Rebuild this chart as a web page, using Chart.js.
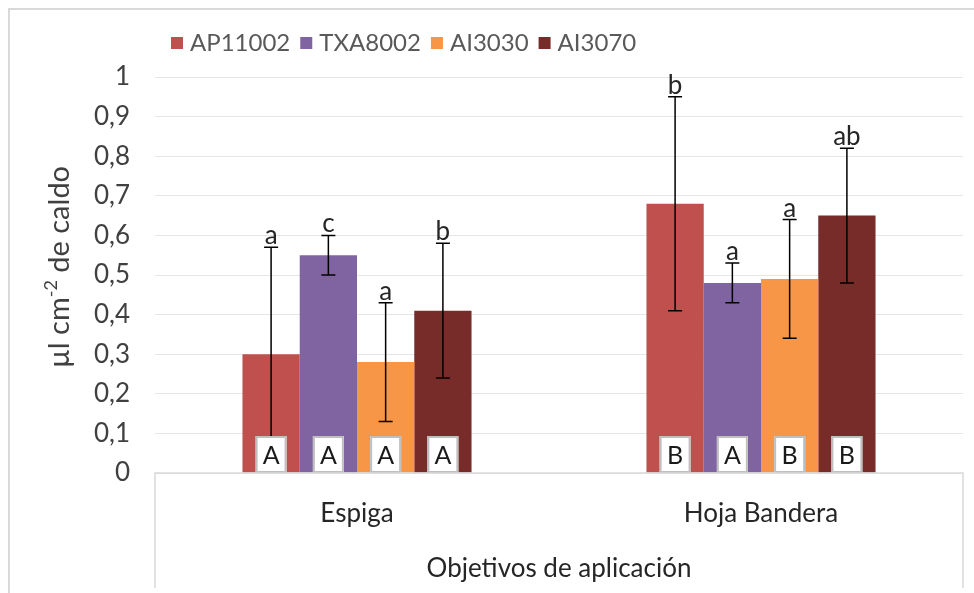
<!DOCTYPE html>
<html>
<head>
<meta charset="utf-8">
<script src="https://cdn.jsdelivr.net/npm/chart.js@4.4.1/dist/chart.umd.min.js"></script>
<style>
  html, body { margin: 0; padding: 0; background: #fff; }
  #wrap { position: relative; width: 974px; height: 593px; }
</style>
</head>
<body>
<div id="wrap"><canvas id="chart"></canvas></div>
<script>
const categories = ['Espiga', 'Hoja Bandera'];
const seriesNames = ['AP11002', 'TXA8002', 'AI3030', 'AI3070'];
const ap11002 = [0.30, 0.68];
const txa8002 = [0.55, 0.48];
const ai3030 = [0.28, 0.49];
const ai3070 = [0.41, 0.65];
const ap11002Err = [0.27, 0.27];
const txa8002Err = [0.05, 0.05];
const ai3030Err = [0.15, 0.15];
const ai3070Err = [0.17, 0.17];
const ap11002Top = ['a', 'b'];
const txa8002Top = ['c', 'a'];
const ai3030Top = ['a', 'a'];
const ai3070Top = ['b', 'ab'];
const ap11002Box = ['A', 'B'];
const txa8002Box = ['A', 'A'];
const ai3030Box = ['A', 'B'];
const ai3070Box = ['A', 'B'];
const yTicks = [0, 0.1, 0.2, 0.3, 0.4, 0.5, 0.6, 0.7, 0.8, 0.9, 1];

const colors = ['#c0504d', '#8064a2', '#f79646', '#772c2a'];
const values = [ap11002, txa8002, ai3030, ai3070];
const errors = [ap11002Err, txa8002Err, ai3030Err, ai3070Err];
const topLetters = [ap11002Top, txa8002Top, ai3030Top, ai3070Top];
const boxLetters = [ap11002Box, txa8002Box, ai3030Box, ai3070Box];

const fontFamily = 'Lato, "Open Sans", sans-serif';
const textColor = '#404040';
const lineGray = '#d9d9d9';

function formatTick(value) {
  const v = Math.round(value * 10) / 10;
  return String(v).replace('.', ',');
}

const frame = {
  id: 'frame',
  beforeDraw(chart) {
    const ctx = chart.ctx;
    ctx.save();
    ctx.strokeStyle = lineGray;
    ctx.lineWidth = 2;
    ctx.beginPath();
    ctx.moveTo(9, chart.height + 5);
    ctx.lineTo(9, 9);
    ctx.lineTo(chart.width + 5, 9);
    ctx.stroke();
    ctx.restore();
  },
  afterDraw(chart) {
    const ctx = chart.ctx;
    const { left, right, bottom } = chart.chartArea;
    ctx.save();
    ctx.strokeStyle = lineGray;
    ctx.lineWidth = 1.5;
    ctx.beginPath();
    ctx.moveTo(left, 588);
    ctx.lineTo(left, bottom);
    ctx.lineTo(right, bottom);
    ctx.lineTo(right, 588);
    ctx.stroke();
    ctx.restore();
  }
};

const legendPlugin = {
  id: 'customLegend',
  afterDraw(chart) {
    const ctx = chart.ctx;
    ctx.save();
    ctx.font = `24px ${fontFamily}`;
    ctx.textBaseline = 'middle';
    ctx.textAlign = 'left';
    let x = 171;
    const y = 43;
    chart.data.datasets.forEach((ds) => {
      ctx.fillStyle = ds.backgroundColor;
      ctx.fillRect(x, y - 6, 12, 12);
      ctx.fillStyle = '#595959';
      ctx.fillText(ds.label, x + 19, y);
      x += 19 + ctx.measureText(ds.label).width + 10;
    });
    ctx.restore();
  }
};

const yTitlePlugin = {
  id: 'yTitle',
  afterDraw(chart) {
    const ctx = chart.ctx;
    const partA = 'µl cm';
    const sup = '-2';
    const partB = ' de caldo';
    ctx.save();
    ctx.translate(60, 267);
    ctx.rotate(-Math.PI / 2);
    ctx.fillStyle = textColor;
    ctx.textBaseline = 'middle';
    ctx.textAlign = 'left';
    const mainFont = `29px ${fontFamily}`;
    const supFont = `18px ${fontFamily}`;
    ctx.font = mainFont;
    const wA = ctx.measureText(partA).width;
    const wB = ctx.measureText(partB).width;
    ctx.font = supFont;
    const wS = ctx.measureText(sup).width;
    let x = -(wA + wS + wB) / 2;
    ctx.font = mainFont;
    ctx.fillText(partA, x, 0);
    x += wA;
    ctx.font = supFont;
    ctx.fillText(sup, x, -9);
    x += wS;
    ctx.font = mainFont;
    ctx.fillText(partB, x, 0);
    ctx.restore();
  }
};

const errorBars = {
  id: 'errorBars',
  afterDatasetsDraw(chart) {
    const ctx = chart.ctx;
    const yScale = chart.scales.y;
    ctx.save();
    chart.data.datasets.forEach((ds, di) => {
      const meta = chart.getDatasetMeta(di);
      meta.data.forEach((bar, i) => {
        const v = values[di][i];
        const e = errors[di][i];
        const yHi = yScale.getPixelForValue(v + e);
        const yLo = yScale.getPixelForValue(Math.max(v - e, 0));
        ctx.strokeStyle = '#000';
        ctx.lineWidth = 1.5;
        ctx.beginPath();
        ctx.moveTo(bar.x, yHi);
        ctx.lineTo(bar.x, yLo);
        ctx.moveTo(bar.x - 7, yHi);
        ctx.lineTo(bar.x + 7, yHi);
        ctx.moveTo(bar.x - 7, yLo);
        ctx.lineTo(bar.x + 7, yLo);
        ctx.stroke();

        ctx.fillStyle = '#262626';
        ctx.font = `26px ${fontFamily}`;
        ctx.textAlign = 'center';
        ctx.textBaseline = 'alphabetic';
        ctx.fillText(topLetters[di][i], bar.x, yHi - 3);

        const base = yScale.getPixelForValue(0);
        const bw = 31, bh = 37;
        ctx.fillStyle = '#fff';
        ctx.fillRect(bar.x - bw / 2, base - bh, bw, bh);
        ctx.strokeStyle = '#bfbfbf';
        ctx.lineWidth = 2;
        ctx.strokeRect(bar.x - bw / 2 + 1, base - bh + 1, bw - 2, bh - 2);
        ctx.fillStyle = '#1a1a1a';
        ctx.textBaseline = 'middle';
        ctx.font = `25px ${fontFamily}`;
        ctx.fillText(boxLetters[di][i], bar.x, base - bh / 2 + 1);
      });
    });
    ctx.restore();
  }
};

new Chart(document.getElementById('chart'), {
  type: 'bar',
  data: {
    labels: categories,
    datasets: seriesNames.map((name, i) => ({
      label: name,
      data: values[i],
      backgroundColor: colors[i],
      borderWidth: 0,
      barPercentage: 1,
      categoryPercentage: 0.567
    }))
  },
  options: {
    responsive: true,
    maintainAspectRatio: false,
    animation: false,
    layout: { padding: { left: 10, right: 11, top: 77, bottom: 0 } },
    plugins: {
      legend: { display: false },
      tooltip: { enabled: false }
    },
    scales: {
      x: {
        grid: { display: false },
        border: { display: false },
        ticks: {
          color: '#262626',
          padding: 17,
          font: { family: fontFamily, size: 26 }
        },
        title: {
          display: true,
          text: 'Objetivos de aplicación',
          color: '#262626',
          font: { family: fontFamily, size: 26 },
          padding: { top: 0, bottom: 9 }
        },
        afterFit(scale) { scale.height = 120; }
      },
      y: {
        min: 0,
        max: 1,
        afterBuildTicks(scale) { scale.ticks = yTicks.map((v) => ({ value: v })); },
        grid: { color: '#e6e6e6', drawTicks: false, lineWidth: 1 },
        border: { display: false },
        ticks: {
          color: textColor,
          padding: 25,
          font: { family: fontFamily, size: 26 },
          callback: (value) => formatTick(value)
        },
        afterFit(scale) { scale.width = 145; }
      }
    }
  },
  plugins: [frame, legendPlugin, yTitlePlugin, errorBars]
});
</script>
</body>
</html>
